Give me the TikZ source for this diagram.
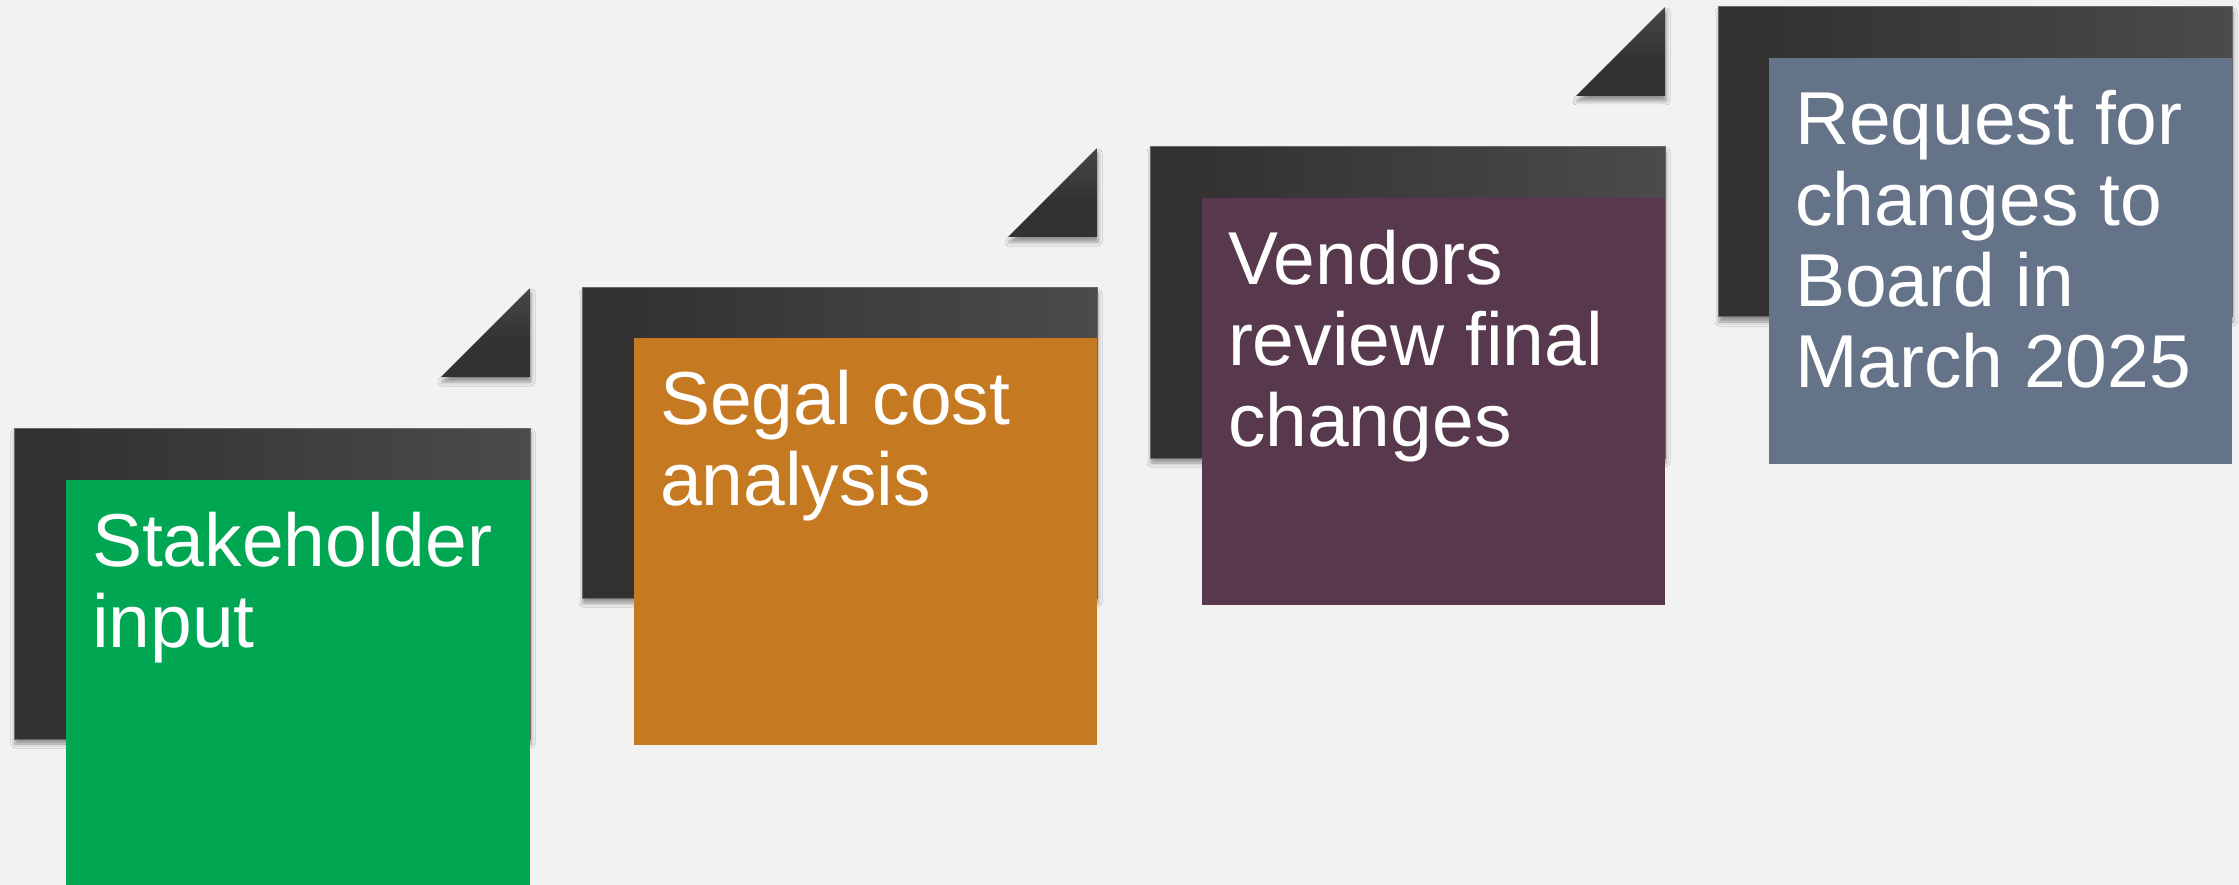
\documentclass[tikz,border=0pt]{standalone}
\usepackage{fontspec}
\setmainfont{Liberation Sans}
\usetikzlibrary{shadows.blur}
\definecolor{bg}{HTML}{F2F2F2}
\definecolor{cgreen}{HTML}{00A651}
\definecolor{corange}{HTML}{C57A22}
\definecolor{cpurple}{HTML}{58384C}
\definecolor{cslate}{HTML}{657388}
\definecolor{dkA}{HTML}{333131}
\definecolor{dkB}{HTML}{5A5858}
\definecolor{dkE}{HTML}{6A6868}
\pgfdeclarehorizontalshading{darkbar}{100bp}{color(0bp)=(dkA); color(30bp)=(dkA); color(100bp)=(dkB)}
\pgfdeclareverticalshading{darktri}{100bp}{color(0bp)=(dkA); color(45bp)=(dkA); color(100bp)=(dkB)}
\tikzset{
  panel/.style={shading=darkbar, shading angle=0, draw=dkE, line width=1pt,
    blur shadow={shadow xshift=1pt, shadow yshift=-5pt, shadow blur radius=4pt, shadow opacity=40}},
  flap/.style={shading=darktri, shading angle=0,
    blur shadow={shadow xshift=1pt, shadow yshift=-5pt, shadow blur radius=4pt, shadow opacity=40}},
  card/.style={anchor=north west, inner sep=0pt, outer sep=0pt, draw=none,
    minimum width=463pt, minimum height=407pt},
  txt/.style={anchor=north west, inner sep=0pt, outer sep=0pt, text=white, align=left,
    font=\fontsize{75}{81}\selectfont, xshift=26pt, yshift=-32pt}
}
\begin{document}
\begin{tikzpicture}[x=1pt,y=-1pt]
\useasboundingbox[fill=bg] (0,0) rectangle (2239,885);
% stage 1
\path[panel] (14,428) rectangle (530,739);
\path[flap] (441,377) -- (530,377) -- (530,288) -- cycle;
\node[card, fill=cgreen, minimum width=464pt, minimum height=405pt] (b1) at (66,480) {};
\node[txt] (t1) at (b1.north west) {Stakeholder\\input};
% stage 2
\path[panel] (582,288) rectangle (1097,598);
\path[flap] (1008,237) -- (1097,237) -- (1097,148) -- cycle;
\node[card, fill=corange] (b2) at (634,338) {};
\node[txt] (t2) at (b2.north west) {Segal cost\\analysis};
% stage 3
\path[panel] (1150,147) rectangle (1665,458);
\path[flap] (1576,96) -- (1665,96) -- (1665,7) -- cycle;
\node[card, fill=cpurple] (b3) at (1202,198) {};
\node[txt] (t3) at (b3.north west) {Vendors\\review final\\changes};
% stage 4
\path[panel] (1718,7) rectangle (2232,317);
\node[card, fill=cslate, minimum height=406pt] (b4) at (1769,58) {};
\node[txt] (t4) at (b4.north west) {Request for\\changes to\\Board in\\March 2025};
\end{tikzpicture}
\end{document}
